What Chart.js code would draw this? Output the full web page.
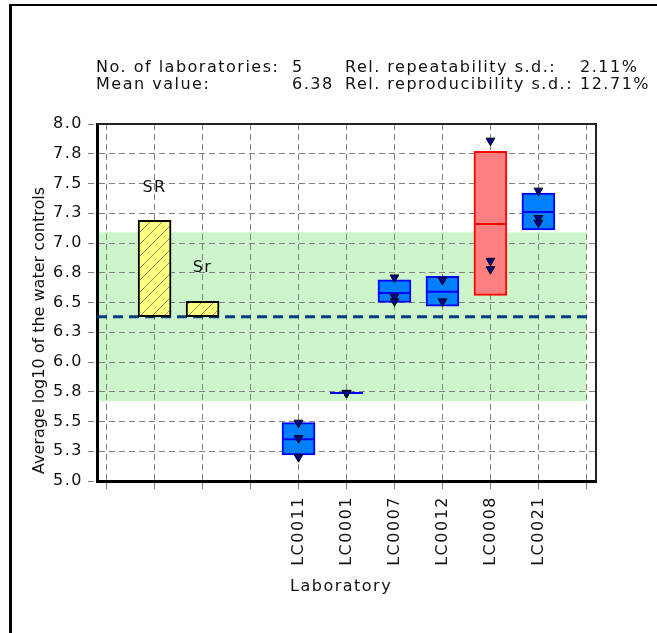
<!DOCTYPE html>
<html><head><meta charset="utf-8">
<script src="https://cdn.jsdelivr.net/npm/chart.js@4/dist/chart.umd.min.js"></script>
<style>html,body{margin:0;padding:0;background:#fff;overflow:hidden}canvas{display:block}</style>
</head><body>
<canvas id="c" width="657" height="633"></canvas>
<script>
// ---- data ----
const xTickValues = [0,1,2,3,4,5,6,7,8,9,10];
const yTickValues = [5.0,5.25,5.5,5.75,6.0,6.25,6.5,6.75,7.0,7.25,7.5,7.75,8.0];
const yTickLabels = ['5.0','5.3','5.5','5.8','6.0','6.3','6.5','6.8','7.0','7.3','7.5','7.8','8.0'];

const meanValue = 6.38;
const bandLimits = [5.67, 7.09];

const sdNames = ['SR','Sr'];
const sdSlots = [1,2];
const sdTops  = [7.19, 6.51];

const labNames = ['LC0011','LC0001','LC0007','LC0012','LC0008','LC0021'];
const labSlots = [4,5,6,7,8,9];
const boxLow   = [5.22, 5.74, 6.50, 6.47, 6.56, 7.11];
const boxMid   = [5.35, 5.74, 6.58, 6.59, 7.16, 7.26];
const boxHigh  = [5.49, 5.74, 6.69, 6.72, 7.77, 7.42];
const labFlag  = [false,false,false,false,true,false];
const labValues = [
  [5.49,5.36,5.20],
  [5.74,5.74,5.74],
  [6.71,6.55,6.51],
  [6.69,6.51],
  [7.86,6.85,6.78],
  [7.44,7.21,7.17]
];

const headerRows = [
  ['No. of laboratories:', '5', 'Rel. repeatability s.d.:', '2.11%'],
  ['Mean value:', '6.38', 'Rel. reproducibility s.d.:', '12.71%']
];
const xTitle = 'Laboratory';
const yTitle = 'Average log10 of the water controls';

// ---- styles ----
const FONT = '"DejaVu Sans", sans-serif';
const FS = 16;
const SPACING = '1.5px';
const X_MIN = -0.2, X_MAX = 10.2;

const slotLabels = xTickValues.map(v => { const k = labSlots.indexOf(v); return k >= 0 ? labNames[k] : ''; });

const canvas = document.getElementById('c');
const ctx = canvas.getContext('2d');

function hatchPattern() {
  const p = document.createElement('canvas');
  p.width = 12; p.height = 12;
  const g = p.getContext('2d');
  g.fillStyle = '#ffff80'; g.fillRect(0,0,12,12);
  g.strokeStyle = '#8c8c64'; g.lineWidth = 1;
  g.beginPath();
  g.moveTo(-6,6); g.lineTo(6,-6);
  g.moveTo(0,12); g.lineTo(12,0);
  g.moveTo(6,18); g.lineTo(18,6);
  g.stroke();
  return ctx.createPattern(p, 'repeat');
}

const pointData = [];
labValues.forEach((vals, i) => vals.forEach(v => pointData.push({x: labSlots[i], y: v})));

const decor = {
  id: 'decor',
  beforeDraw(chart) {
    const c = chart.ctx, a = chart.chartArea, xs = chart.scales.x, ys = chart.scales.y;
    c.letterSpacing = SPACING;
    c.save();
    c.fillStyle = '#fff'; c.fillRect(0,0,chart.width,chart.height);
    const yTop = ys.getPixelForValue(bandLimits[1]);
    const yBot = ys.getPixelForValue(bandLimits[0]);
    const xr = xs.getPixelForValue(xTickValues[xTickValues.length-1]);
    c.fillStyle = '#ccf5cc';
    c.fillRect(a.left, yTop, xr - a.left, yBot - yTop);
    c.restore();
  },
  afterDraw(chart) {
    const c = chart.ctx, a = chart.chartArea, xs = chart.scales.x, ys = chart.scales.y;
    c.save();
    c.letterSpacing = SPACING;
    // plot top/right border
    c.strokeStyle = '#222'; c.lineWidth = 2;
    c.beginPath();
    c.moveTo(a.left, a.top); c.lineTo(a.right, a.top); c.lineTo(a.right, a.bottom);
    c.stroke();
    // outer frame
    c.strokeStyle = '#000';
    c.lineWidth = 2;
    c.beginPath(); c.moveTo(9, 5); c.lineTo(chart.width, 5); c.stroke();
    c.lineWidth = 3;
    c.beginPath(); c.moveTo(10.5, 4); c.lineTo(10.5, chart.height); c.stroke();

    c.fillStyle = '#111';
    c.font = FS + 'px ' + FONT;
    c.textBaseline = 'alphabetic';
    c.textAlign = 'left';
    const cols = [96, 292, 345, 580];
    const rowsY = [72, 89];
    headerRows.forEach((row, r) => row.forEach((t, k) => c.fillText(t, cols[k], rowsY[r])));

    // SR / Sr labels
    c.textAlign = 'center'; c.textBaseline = 'middle';
    sdNames.forEach((n, i) => {
      c.fillText(n, xs.getPixelForValue(sdSlots[i]), ys.getPixelForValue(sdTops[i]) - 33);
    });

    // axis titles
    c.textBaseline = 'alphabetic'; c.textAlign = 'left';
    c.fillText(xTitle, 290, 591);
    c.save();
    c.letterSpacing = '0px';
    c.translate(44, (a.top + a.bottom) / 2 + 28);
    c.rotate(-Math.PI/2);
    c.textAlign = 'center';
    c.fillText(yTitle, 0, 0);
    c.restore();
    c.restore();
  }
};

new Chart(ctx, {
  data: {
    datasets: [
      {
        type: 'scatter', order: 1,
        data: pointData,
        pointStyle: 'triangle', rotation: 180, radius: 5, hoverRadius: 5,
        backgroundColor: '#000090', borderColor: '#000', borderWidth: 1
      },
      {
        type: 'scatter', order: 2,
        data: labSlots.map((s,i) => ({x: s, y: boxMid[i]})),
        pointStyle: 'line', radius: 16.5, hoverRadius: 16.5,
        borderColor: labFlag.map(f => f ? '#ff0000' : '#0000ff'), borderWidth: 2
      },
      {
        type: 'bar', order: 3, grouped: false,
        data: labSlots.map((s,i) => ({x: s, y: [boxLow[i], boxHigh[i]]})),
        backgroundColor: labFlag.map(f => f ? '#ff8080' : '#0080ff'),
        borderColor: labFlag.map(f => f ? '#ff0000' : '#0000ff'),
        borderWidth: 2, borderSkipped: false, barThickness: 33
      },
      {
        type: 'bar', order: 4, grouped: false,
        data: sdSlots.map((s,i) => ({x: s, y: [meanValue, sdTops[i]]})),
        backgroundColor: hatchPattern(),
        borderColor: '#000', borderWidth: 2, borderSkipped: false, barThickness: 33
      },
      {
        type: 'line', order: 5,
        data: [{x: X_MIN, y: meanValue}, {x: xTickValues[xTickValues.length-1] + 0.05, y: meanValue}],
        borderColor: '#003f7f', borderWidth: 3, borderDash: [10,6], pointRadius: 0, fill: false
      }
    ]
  },
  options: {
    responsive: false, animation: false, devicePixelRatio: 1,
    layout: { padding: { top: 124, right: 61, left: 0, bottom: 0 } },
    plugins: { legend: { display: false }, tooltip: { enabled: false }, title: { display: false } },
    scales: {
      x: {
        type: 'linear', min: X_MIN, max: X_MAX, offset: false,
        afterBuildTicks: s => { s.ticks = xTickValues.map(v => ({value: v})); },
        afterFit: s => { s.height = 633 - 481; },
        ticks: {
          autoSkip: false, minRotation: 90, maxRotation: 90, padding: 6,
          color: '#111', font: { family: FONT, size: FS },
          callback: (v, i) => slotLabels[i]
        },
        grid: { offset: false, color: '#808080', lineWidth: 1, tickLength: 9, tickColor: '#808080', tickBorderDash: [6,3] },
        border: { display: true, color: '#000', width: 3, dash: [6,4] }
      },
      y: {
        type: 'linear', min: 5, max: 8,
        afterBuildTicks: s => { s.ticks = yTickValues.map(v => ({value: v})); },
        afterFit: s => { s.width = 97; },
        ticks: {
          autoSkip: false, padding: 5,
          color: '#111', font: { family: FONT, size: FS },
          callback: (v, i) => yTickLabels[i]
        },
        grid: { color: '#808080', lineWidth: 1, tickLength: 9, tickColor: '#808080', tickBorderDash: [6,3] },
        border: { display: true, color: '#000', width: 3, dash: [6,4] }
      }
    }
  },
  plugins: [decor]
});
</script>
</body></html>
